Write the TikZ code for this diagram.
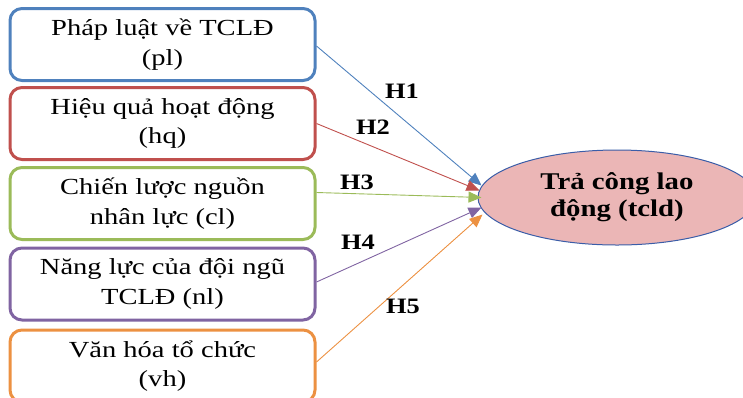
\documentclass[tikz,border=0pt]{standalone}
\usepackage{fontspec}
\setmainfont{Liberation Serif}
\newfontfamily\boxfont[FakeStretch=1.24]{Liberation Serif}
\newfontfamily\hfont[FakeStretch=1.2]{Liberation Serif}
\usetikzlibrary{arrows.meta,shapes.geometric}
\definecolor{cblue}{HTML}{4F81BD}
\definecolor{cred}{HTML}{C0504D}
\definecolor{cgreen}{HTML}{9BBB59}
\definecolor{cpurple}{HTML}{8064A2}
\definecolor{corange}{HTML}{EC9142}
\definecolor{cfill}{HTML}{EBB6B6}
\definecolor{cedge}{HTML}{3A5DA8}
\tikzset{
  factor/.style={draw=#1, line width=3pt, rounded corners=12pt, minimum width=305pt, minimum height=72pt, inner sep=0pt, align=center, font=\boxfont\fontsize{23}{29.5}\selectfont, text=black},
  link/.style={draw=#1, line width=0.9pt, -{Triangle[length=13pt,width=11pt]}, color=#1},
  hlabel/.style={font=\hfont\bfseries\fontsize{22}{26}\selectfont, inner sep=0pt},
}
\begin{document}
\begin{tikzpicture}[x=1pt,y=-1pt]
\useasboundingbox (0,0) rectangle (743,397);
\node[factor=cblue]   (b1) at (162.5,44.5) {Pháp luật về TCLĐ\\(pl)};
\node[factor=cred]    (b2) at (162.5,123.5) {Hiệu quả hoạt động\\(hq)};
\node[factor=cgreen]  (b3) at (162.5,203.5) {Chiến lược nguồn\\nhân lực (cl)};
\node[factor=cpurple] (b4) at (162.5,284) {Năng lực của đội ngũ\\TCLĐ (nl)};
\node[factor=corange] (b5) at (162.5,366) {Văn hóa tổ chức\\(vh)};
\node[ellipse, draw=cedge, line width=1pt, fill=cfill, minimum width=278pt, minimum height=95pt, inner sep=0pt, align=center, font=\hfont\bfseries\fontsize{24}{27}\selectfont] (e) at (617,197.5) {Trả công lao\\động (tcld)};
\draw[link=cblue]   ([yshift=-1.5pt]b1.east) -- ([xshift=4pt,yshift=12pt]e.west);
\draw[link=cred]    (b2.east) -- ([xshift=2pt,yshift=7pt]e.west);
\draw[link=cgreen]  ([yshift=11pt]b3.east) -- ([xshift=4pt]e.west);
\draw[link=cpurple] ([yshift=2pt]b4.east) -- ([xshift=4pt,yshift=-10pt]e.west);
\draw[link=corange] ([yshift=4pt]b5.east) -- ([xshift=5pt,yshift=-17pt]e.west);
\node[hlabel] (h1) at (402,91) {H1};
\node[hlabel] (h2) at (373,127) {H2};
\node[hlabel] (h3) at (357,182) {H3};
\node[hlabel] (h4) at (358,242) {H4};
\node[hlabel] (h5) at (403,306) {H5};
\end{tikzpicture}
\end{document}
